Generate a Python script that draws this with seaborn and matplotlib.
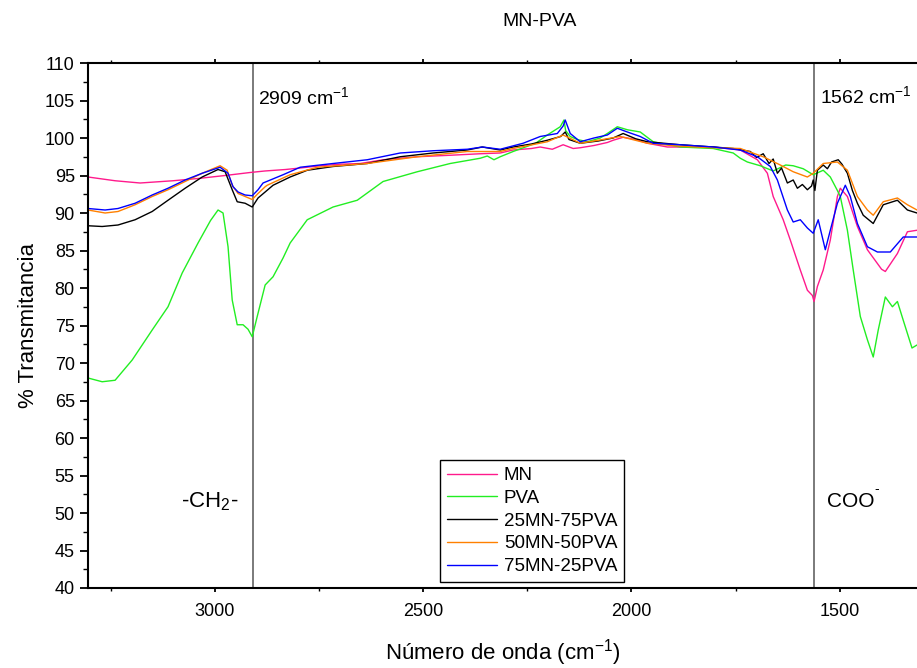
import matplotlib
matplotlib.use("Agg")
import matplotlib.pyplot as plt
from matplotlib.ticker import MultipleLocator
import seaborn as sns
import pandas as pd

# ---------------- data ----------------
series_names = ["MN", "PVA", "25MN-75PVA", "50MN-50PVA", "75MN-25PVA"]
series_colors = ["#FF1A8C", "#22EE22", "#000000", "#FF8000", "#0000FF"]

mn_wn = [3304, 3239, 3179, 3100, 3040, 2975, 2915, 2880, 2830, 2795, 2747, 2700, 2651, 2596, 2555,
         2514, 2435, 2363, 2315, 2284, 2240, 2219, 2190, 2164, 2140, 2123, 2090, 2058, 2044, 2020,
         1990, 1962, 1914, 1850, 1804, 1739, 1698, 1674, 1660, 1636, 1619, 1595, 1578, 1566, 1562,
         1554, 1540, 1523, 1506, 1499, 1482, 1458, 1434, 1400, 1391, 1362, 1338, 1315]
mn_val = [94.8, 94.3, 94.0, 94.3, 94.6, 95.0, 95.4, 95.6, 95.8, 96.0, 96.3, 96.5, 96.6, 97.1, 97.3,
          97.5, 97.7, 97.9, 98.0, 98.4, 98.6, 98.8, 98.5, 99.1, 98.6, 98.7, 99.0, 99.4, 99.7, 100.1,
          99.8, 99.3, 98.8, 98.8, 98.8, 98.4, 97.1, 95.3, 92.2, 89.1, 86.4, 82.4, 79.7, 79.0, 78.2,
          80.2, 82.4, 86.4, 92.2, 93.3, 92.2, 88.2, 85.1, 82.5, 82.2, 84.6, 87.5, 87.7]

pva_wn = [3304, 3270, 3239, 3198, 3150, 3112, 3078, 3040, 3010, 2992, 2980, 2968, 2958, 2946, 2932,
          2920, 2910, 2898, 2879, 2860, 2836, 2819, 2778, 2716, 2658, 2596, 2514, 2435, 2363, 2346,
          2330, 2315, 2284, 2230, 2202, 2171, 2162, 2158, 2147, 2130, 2106, 2075, 2058, 2034, 2010,
          1979, 1948, 1883, 1804, 1756, 1739, 1722, 1691, 1660, 1630, 1612, 1588, 1564, 1540, 1523,
          1506, 1499, 1482, 1468, 1451, 1434, 1420, 1408, 1391, 1374, 1362, 1348, 1327, 1315]
pva_val = [68.0, 67.5, 67.7, 70.4, 74.4, 77.5, 82.0, 86.0, 89.0, 90.4, 90.0, 85.5, 78.4, 75.1, 75.1,
           74.5, 73.5, 76.2, 80.4, 81.5, 84.0, 86.0, 89.1, 90.8, 91.7, 94.2, 95.5, 96.6, 97.3, 97.6,
           97.1, 97.5, 98.2, 99.3, 100.4, 101.5, 102.4, 101.0, 100.2, 99.8, 99.5, 100.0, 100.6, 101.5, 101.1,
           100.8, 99.5, 98.8, 98.6, 98.0, 97.3, 96.8, 96.3, 95.6, 96.4, 96.3, 95.9, 95.1, 95.7, 94.8,
           93.0, 92.2, 87.7, 82.4, 76.2, 73.1, 70.8, 74.4, 78.8, 77.5, 78.2, 75.7, 72.0, 72.4]

b25_wn = [3304, 3270, 3232, 3191, 3150, 3112, 3071, 3030, 2992, 2975, 2958, 2946, 2927, 2910, 2896,
          2879, 2860, 2819, 2778, 2716, 2634, 2555, 2476, 2394, 2358, 2315, 2284, 2240, 2202, 2170,
          2159, 2150, 2123, 2080, 2044, 2020, 1990, 1962, 1883, 1804, 1756, 1715, 1700, 1684, 1670,
          1660, 1650, 1640, 1626, 1612, 1602, 1590, 1578, 1568, 1564, 1560, 1554, 1540, 1530, 1520,
          1504, 1495, 1482, 1470, 1458, 1444, 1420, 1396, 1362, 1338, 1315]
b25_val = [88.3, 88.2, 88.4, 89.1, 90.2, 91.7, 93.3, 94.8, 95.8, 95.5, 93.1, 91.5, 91.3, 90.8, 92.0,
           92.8, 93.7, 94.8, 95.7, 96.2, 96.6, 97.5, 98.0, 98.4, 98.8, 98.4, 98.8, 99.2, 99.7, 100.2,
           100.8, 99.8, 99.3, 99.6, 100.0, 100.6, 99.9, 99.5, 99.1, 98.8, 98.6, 98.2, 97.4, 97.9, 96.6,
           97.2, 95.3, 96.0, 94.0, 94.4, 93.3, 93.8, 93.1, 93.6, 94.4, 93.0, 95.7, 96.4, 95.9, 96.8,
           97.1, 96.5, 95.3, 93.0, 91.3, 89.7, 88.6, 91.1, 91.7, 90.4, 90.0]

o50_wn = [3304, 3263, 3232, 3191, 3150, 3112, 3071, 3030, 2987, 2970, 2958, 2944, 2927, 2910, 2896,
          2879, 2874, 2819, 2754, 2634, 2514, 2394, 2315, 2284, 2202, 2164, 2123, 2090, 2027, 1962,
          1883, 1804, 1739, 1684, 1643, 1612, 1578, 1564, 1540, 1506, 1482, 1458, 1434, 1420, 1396,
          1362, 1338, 1315]
o50_val = [90.4, 90.0, 90.2, 91.1, 92.2, 93.1, 94.2, 95.3, 96.3, 95.7, 93.7, 92.6, 92.2, 91.8, 92.6,
           93.5, 93.7, 95.1, 96.1, 96.6, 97.5, 98.2, 98.2, 98.6, 99.5, 100.4, 99.3, 99.6, 100.2, 99.3,
           98.9, 98.7, 98.6, 97.5, 96.4, 95.5, 94.8, 95.3, 96.6, 96.8, 95.7, 92.2, 90.4, 89.7, 91.5,
           92.0, 91.1, 90.4]

b75_wn = [3304, 3263, 3232, 3191, 3150, 3112, 3071, 3030, 2987, 2968, 2956, 2944, 2927, 2910, 2896,
          2884, 2836, 2795, 2716, 2634, 2555, 2476, 2394, 2358, 2315, 2260, 2219, 2178, 2164, 2159,
          2147, 2123, 2090, 2058, 2034, 2010, 1979, 1948, 1883, 1804, 1739, 1698, 1667, 1650, 1626,
          1612, 1595, 1578, 1564, 1552, 1535, 1523, 1506, 1487, 1475, 1458, 1434, 1410, 1379, 1348,
          1315]
b75_val = [90.6, 90.4, 90.6, 91.3, 92.4, 93.3, 94.4, 95.3, 96.1, 95.3, 93.5, 92.8, 92.4, 92.3, 93.1,
           94.0, 95.1, 96.1, 96.6, 97.1, 98.0, 98.3, 98.5, 98.8, 98.5, 99.3, 100.2, 100.6, 101.6, 102.4,
           100.6, 99.5, 100.0, 100.4, 101.3, 100.8, 100.2, 99.3, 99.1, 98.8, 98.4, 97.5, 96.2, 94.4, 90.4,
           88.8, 89.1, 88.0, 87.3, 89.1, 85.1, 87.7, 91.3, 93.7, 92.2, 88.6, 85.5, 84.8, 84.8, 86.8,
           86.8]

all_wn = [mn_wn, pva_wn, b25_wn, o50_wn, b75_wn]
all_val = [mn_val, pva_val, b25_val, o50_val, b75_val]

marker_wn = [2909, 1562]
marker_labels = ["2909 cm$^{\\mathrm{-1}}$", "1562 cm$^{\\mathrm{-1}}$"]
group_labels = ["-CH$_2$-", "COO"]

x_ticks = [3000, 2500, 2000, 1500]
y_ticks = list(range(40, 111, 5))

# ---------------- build the table ----------------
frames = []
for name, wn, val in zip(series_names, all_wn, all_val):
    frames.append(pd.DataFrame({"wn": wn, "T": val, "series": name}))
df = pd.concat(frames, ignore_index=True)

# ---------------- figure ----------------
sns.set_theme(style="white")
plt.rcParams["font.family"] = ["Liberation Sans", "DejaVu Sans"]
plt.rcParams["mathtext.fontset"] = "custom"
plt.rcParams["mathtext.rm"] = "Liberation Sans"
plt.rcParams["mathtext.it"] = "Liberation Sans"
plt.rcParams["text.color"] = "black"
plt.rcParams["axes.labelcolor"] = "black"
plt.rcParams["xtick.color"] = "black"
plt.rcParams["ytick.color"] = "black"

fig = plt.figure(figsize=(9.17, 6.68), dpi=100)
ax = fig.add_axes([88 / 917, 1 - 588 / 668, 1 - 88 / 917, (588 - 63) / 668])

sns.lineplot(data=df, x="wn", y="T", hue="series", hue_order=series_names,
             palette=dict(zip(series_names, series_colors)), sort=False,
             estimator=None, linewidth=1.0, ax=ax)

for w in marker_wn:
    ax.axvline(w, color="#707070", linewidth=1.3, zorder=1)

ax.set_xlim(3304, 1315)
ax.set_ylim(40, 110)
ax.set_xticks(x_ticks)
ax.set_yticks(y_ticks)
ax.xaxis.set_minor_locator(MultipleLocator(250))
ax.yaxis.set_minor_locator(MultipleLocator(2.5))

for s in ["left", "bottom", "top"]:
    ax.spines[s].set_color("black")
    ax.spines[s].set_linewidth(1.5)
ax.spines["right"].set_visible(False)

ax.tick_params(axis="both", which="major", direction="out", length=6, width=1.3,
               labelsize=13, colors="black", bottom=True, left=True)
ax.tick_params(axis="both", which="minor", direction="out", length=3.5, width=1.0,
               bottom=True, left=True)
ax.tick_params(axis="x", which="both", top=True, direction="out")
ax.tick_params(axis="x", which="major", top=True, length=3)
ax.tick_params(axis="x", which="minor", top=True, length=2)
ax.tick_params(axis="x", which="both", pad=8)

ax.set_xlabel("Número de onda (cm$^{\\mathrm{-1}}$)", fontsize=16, labelpad=12)
ax.set_ylabel("% Transmitancia", fontsize=16, labelpad=4)
fig.text(540 / 917, 1 - 22 / 668, "MN-PVA", ha="center", va="center", fontsize=14)

ax.text(2896, 105.4, marker_labels[0], fontsize=14, va="center", ha="left")
ax.text(1547, 105.6, marker_labels[1], fontsize=14, va="center", ha="left")
ax.text(3081, 51.5, group_labels[0], fontsize=16, va="center", ha="left")
ax.text(1532, 51.5, group_labels[1], fontsize=15, va="center", ha="left")
ax.text(1418, 53.2, "-", fontsize=10, va="center", ha="left")

leg = ax.legend(loc="lower left", bbox_to_anchor=(0.4246, 0.012), fontsize=13.5,
                frameon=True, fancybox=False, edgecolor="black", framealpha=1,
                handlelength=2.7, labelspacing=0.3, borderpad=0.35, handletextpad=0.35,
                borderaxespad=0.0)
leg.get_frame().set_linewidth(1.0)
leg.set_title(None)

fig.savefig("out.png", dpi=100)
